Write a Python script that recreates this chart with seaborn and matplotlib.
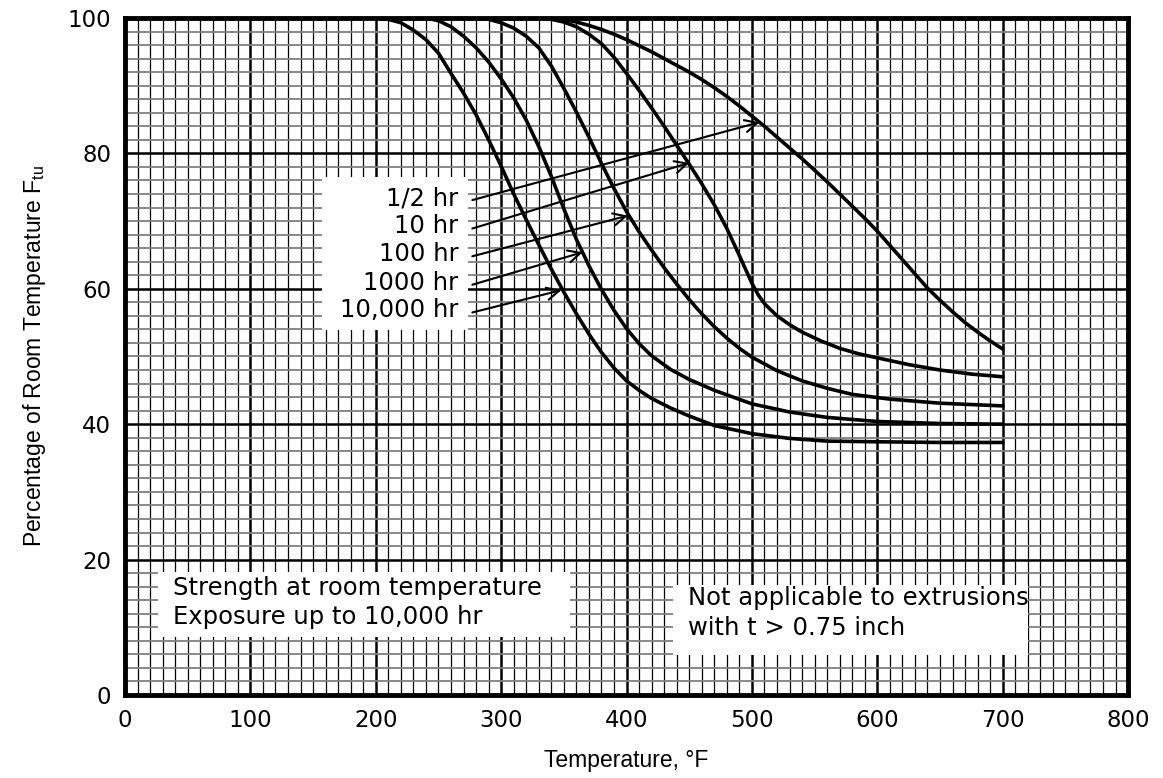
import numpy as np
import pandas as pd
import matplotlib
matplotlib.use('Agg')
import matplotlib.pyplot as plt
from matplotlib.patches import Rectangle
import seaborn as sns

# Curves: temperature (F) vs % of room temperature Ftu
exposures = ['1/2 hr', '10 hr', '100 hr', '1000 hr', '10,000 hr']

temp_half = [0, 340, 350, 360, 370, 380, 390, 400, 410, 420, 430, 440, 450, 460, 470, 480, 490, 500,
             510, 520, 530, 540, 550, 560, 570, 580, 590, 600, 610, 620, 630, 640, 650, 660, 670, 680, 690, 700]
pct_half = [100, 100, 99.8, 99.4, 98.9, 98.3, 97.6, 96.8, 95.9, 95.0, 94.0, 93.0, 92.0, 90.9, 89.7, 88.4, 87.0, 85.5,
            84.0, 82.4, 80.8, 79.2, 77.5, 75.8, 74.0, 72.2, 70.4, 68.5, 66.4, 64.3, 62.2, 60.1, 58.3, 56.6, 55.0, 53.6, 52.3, 51.1]

temp_10 = [0, 330, 340, 350, 360, 370, 380, 390, 400, 410, 420, 430, 440, 450, 460, 470, 480, 490, 500,
           505, 510, 520, 530, 540, 555, 570, 585, 600, 625, 650, 675, 700]
pct_10 = [100, 100, 99.8, 99.4, 98.7, 97.6, 96.2, 94.2, 91.8, 89.3, 86.7, 84.0, 81.2, 78.4, 75.5, 72.4, 68.9, 64.9, 60.8,
          59.1, 57.8, 56.0, 54.7, 53.6, 52.3, 51.2, 50.4, 49.8, 48.8, 48.0, 47.4, 47.0]

temp_100 = [0, 280, 290, 300, 310, 320, 330, 340, 350, 360, 370, 380, 390, 400, 410, 420, 430, 440, 450,
            460, 470, 480, 490, 500, 520, 540, 560, 580, 610, 650, 700]
pct_100 = [100, 100, 99.8, 99.3, 98.5, 97.3, 95.6, 92.9, 89.6, 86.1, 82.4, 78.5, 74.8, 71.4, 68.4, 65.7, 63.1, 60.7, 58.4,
           56.3, 54.4, 52.7, 51.2, 49.9, 47.9, 46.4, 45.3, 44.4, 43.7, 43.1, 42.7]

temp_1000 = [0, 240, 250, 260, 270, 280, 290, 300, 310, 320, 330, 340, 350, 360, 370, 380, 390, 400, 410,
             420, 435, 450, 470, 500, 530, 560, 600, 650, 700]
pct_1000 = [100, 100, 99.6, 98.7, 97.3, 95.6, 93.5, 91.0, 88.2, 84.9, 81.0, 76.6, 71.8, 67.3, 63.4, 59.9, 56.8, 54.1, 51.9,
            50.1, 48.1, 46.6, 45.0, 43.0, 41.8, 41.0, 40.4, 40.1, 40.0]

temp_10000 = [0, 200, 210, 220, 230, 240, 250, 260, 270, 280, 290, 300, 310, 320, 330, 340, 350, 360, 370,
              380, 390, 400, 410, 420, 435, 450, 470, 500, 530, 560, 600, 650, 700]
pct_10000 = [100, 100, 99.8, 99.3, 98.2, 96.8, 94.8, 91.8, 88.9, 85.7, 82.0, 78.1, 74.0, 70.2, 66.5, 62.9, 59.5, 56.3, 53.3,
             50.6, 48.3, 46.4, 45.0, 43.8, 42.4, 41.2, 39.8, 38.6, 37.9, 37.5, 37.4, 37.3, 37.3]

# where each label arrow points on its curve
arrow_tip_temp = [506, 450, 401, 365, 348]
arrow_tip_pct = [84.6, 78.6, 70.8, 65.4, 59.8]
label_pct = [73.4, 69.2, 65.1, 60.9, 56.8]

series_temp = [temp_half, temp_10, temp_100, temp_1000, temp_10000]
series_pct = [pct_half, pct_10, pct_100, pct_1000, pct_10000]

df = pd.concat([
    pd.DataFrame({'temp': t, 'pct': p, 'exposure': name})
    for name, t, p in zip(exposures, series_temp, series_pct)
], ignore_index=True)

sns.set_style('white')
plt.rcParams['font.family'] = ['DejaVu Sans']
plt.rcParams['text.color'] = 'black'
plt.rcParams['axes.labelcolor'] = 'black'
plt.rcParams['xtick.color'] = 'black'
plt.rcParams['ytick.color'] = 'black'
plt.rcParams['mathtext.fontset'] = 'custom'
plt.rcParams['mathtext.rm'] = 'Liberation Sans'
plt.rcParams['mathtext.it'] = 'Liberation Sans'

fig = plt.figure(figsize=(11.63, 7.78), dpi=100)
ax = fig.add_axes([0.1075, 0.1067, 0.8625, 0.8702])

sns.lineplot(data=df, x='temp', y='pct', hue='exposure', palette=['black'] * 5,
             legend=False, lw=2.6, ax=ax, sort=False, zorder=3)

ax.set_xlim(0, 800)
ax.set_ylim(0, 100)
ax.set_xticks(np.arange(0, 801, 100))
ax.set_yticks(np.arange(0, 101, 20))
ax.set_xticks(np.arange(0, 801, 10), minor=True)
ax.set_yticks(np.arange(0, 101, 2), minor=True)
ax.set_axisbelow(True)
ax.grid(which='minor', axis='x', color='black', lw=0.9)
ax.grid(which='minor', axis='y', color='#808080', lw=1.3)
ax.grid(which='major', color='black', lw=1.8)
ax.tick_params(which='both', length=0, pad=10, labelsize=16.5)
for s in ax.spines.values():
    s.set_linewidth(3.5)
    s.set_color('black')
    s.set_zorder(5)

ax.set_xlabel('Temperature, °F', fontsize=16.5, family='Liberation Sans', labelpad=12)
ax.set_ylabel(r'Percentage of Room Temperature F$_{\mathrm{tu}}$', fontsize=16.5,
              family='Liberation Sans', labelpad=14)

# white panels covering the grid behind the notes
ax.add_patch(Rectangle((26.5, 8.6), 328, 9.6, facecolor='white', edgecolor='none', zorder=1.5))
ax.add_patch(Rectangle((437, 5.9), 283, 10.3, facecolor='white', edgecolor='none', zorder=1.5))
ax.add_patch(Rectangle((157, 53.9), 116.5, 22.6, facecolor='white', edgecolor='none', zorder=1.5))

note_size = 17.5
ax.text(38, 15.8, 'Strength at room temperature', fontsize=note_size, va='center', zorder=4)
ax.text(38, 11.5, 'Exposure up to 10,000 hr', fontsize=note_size, va='center', zorder=4)
ax.text(449, 14.3, 'Not applicable to extrusions', fontsize=note_size, va='center', zorder=4)
ax.text(449, 9.9, 'with t > 0.75 inch', fontsize=note_size, va='center', zorder=4)

for name, ly, tx, ty in zip(exposures, label_pct, arrow_tip_temp, arrow_tip_pct):
    ax.text(266, ly, name, fontsize=note_size, ha='right', va='center', zorder=4)
    ax.annotate('', xy=(tx, ty), xytext=(277, ly - 0.3),
                arrowprops=dict(arrowstyle='->', lw=1.5, color='black',
                                mutation_scale=22, shrinkA=0, shrinkB=0),
                zorder=4)

fig.savefig('out.png', dpi=100)
